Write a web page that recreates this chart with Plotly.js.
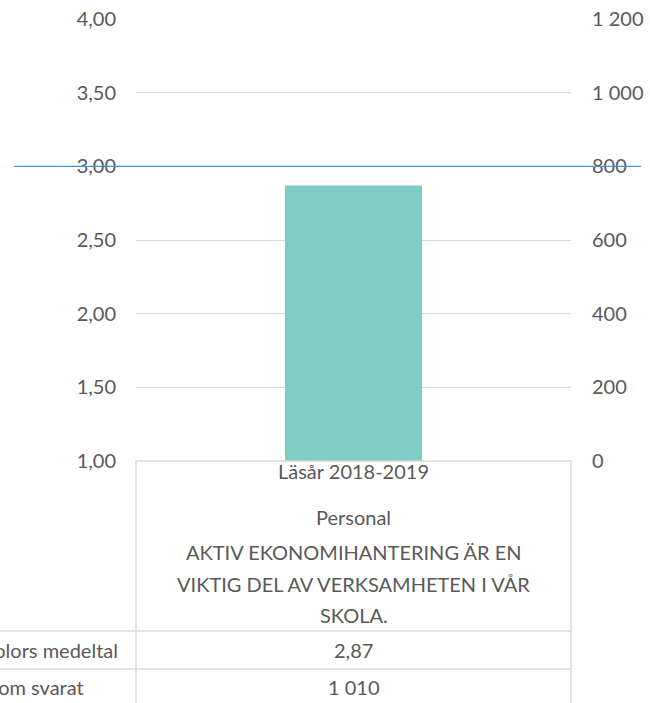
<!DOCTYPE html>
<html>
<head>
<meta charset="utf-8">
<script src="https://cdn.plot.ly/plotly-3.0.1.min.js"></script>
<style>
  html, body { margin: 0; padding: 0; background: #fff; }
  #chart { width: 650px; height: 703px; }
</style>
</head>
<body>
<div id="chart"></div>
<script>
// Data
const categories = ["Läsår 2018-2019"]
const groups = ["Personal"]
const questionLines = ["AKTIV EKONOMIHANTERING ÄR EN", "VIKTIG DEL AV VERKSAMHETEN I VÅR", "SKOLA."]
const meanValues = [2.87]
const answerCounts = [1010]
const rowLabels = ["Alla skolors medeltal", "Antal som svarat"]
const targetLevel = 3

const leftRange = [1, 4]
const rightRange = [0, 1200]

const textColor = "#595959"
const gridColor = "#d9d9d9"
const fontFamily = "Lato, 'Open Sans', sans-serif"
const fontSize = 20

// plot box in pixels (matches the reference)
const L = 136, R = 571, T = 19, B = 461
const W = R - L, H = B - T
const px = (x) => (x - L) / W
const py = (y) => (B - y) / H

const fmtMean = (v) => v.toFixed(2).replace(".", ",")
const fmtCount = (v) => String(v).replace(/\B(?=(\d{3})+(?!\d))/g, " ")

const traces = [
  {
    type: "bar",
    x: categories,
    y: meanValues,
    marker: { color: "#7ecdc4" },
    hoverinfo: "skip",
    showlegend: false,
  },
  {
    // answer count on the right axis (a single point, so no visible line)
    type: "scatter",
    mode: "lines",
    x: categories,
    y: answerCounts,
    yaxis: "y2",
    line: { color: "#ed7d31" },
    hoverinfo: "skip",
    showlegend: false,
  },
]

// table text
const annotations = []
const addText = (text, x, y, anchor) => {
  annotations.push({
    text: text,
    xref: "paper",
    yref: "paper",
    x: x,
    y: y,
    xanchor: anchor || "center",
    yanchor: "middle",
    showarrow: false,
    font: { family: fontFamily, size: fontSize, color: textColor },
  })
}
const mid = px((L + R) / 2)
addText(categories[0], mid, py(471))
addText(groups[0], mid, py(517))
questionLines.forEach((line, i) => addText(line, mid, py(552 + i * 31.5)))
addText(fmtMean(meanValues[0]), mid, py(650))
addText(fmtCount(answerCounts[0]), mid, py(687))
addText(rowLabels[0], px(-64), py(650), "left")
addText(rowLabels[1], px(-64), py(687), "left")

const lineStyle = { color: gridColor, width: 1.5 }
const seg = (x0, y0, x1, y1, line) => ({
  type: "line", xref: "paper", yref: "paper",
  x0: px(x0), y0: py(y0), x1: px(x1), y1: py(y1),
  line: line || lineStyle,
})

const targetY = (targetLevel - leftRange[0]) / (leftRange[1] - leftRange[0])

const shapes = [
  seg(L, B, R, B),
  seg(L, B, L, 703),
  seg(R, B, R, 703),
  seg(0, 631, R, 631),
  seg(0, 669, R, 669),
  // target line at 3,00
  {
    type: "line", xref: "paper", yref: "paper",
    x0: px(14), x1: px(641),
    y0: targetY, y1: targetY,
    line: { color: "#4a8fd8", width: 1.3 },
  },
]

const layout = {
  width: 650,
  height: 703,
  margin: { l: L, r: 650 - R, t: T, b: 703 - B },
  paper_bgcolor: "#ffffff",
  plot_bgcolor: "#ffffff",
  separators: ", ",
  font: { family: fontFamily, size: fontSize, color: textColor },
  bargap: 0.685,
  showlegend: false,
  xaxis: {
    type: "category",
    range: [-0.5, 0.5],
    showticklabels: false,
    showgrid: false,
    zeroline: false,
    showline: false,
    fixedrange: true,
  },
  yaxis: {
    range: leftRange,
    dtick: 0.5,
    tick0: 1,
    tickformat: ".2f",
    showgrid: true,
    gridcolor: gridColor,
    gridwidth: 1,
    zeroline: false,
    showline: false,
    ticks: "",
    ticklabelstandoff: 19,
    tickfont: { family: fontFamily, size: fontSize, color: textColor },
  },
  yaxis2: {
    overlaying: "y",
    side: "right",
    range: rightRange,
    dtick: 200,
    tickformat: ",d",
    showgrid: false,
    zeroline: false,
    showline: false,
    ticks: "",
    ticklabelstandoff: 20,
    tickfont: { family: fontFamily, size: fontSize, color: textColor },
  },
  shapes: shapes,
  annotations: annotations,
}

Plotly.newPlot("chart", traces, layout, { displayModeBar: false, staticPlot: true })
</script>
</body>
</html>
